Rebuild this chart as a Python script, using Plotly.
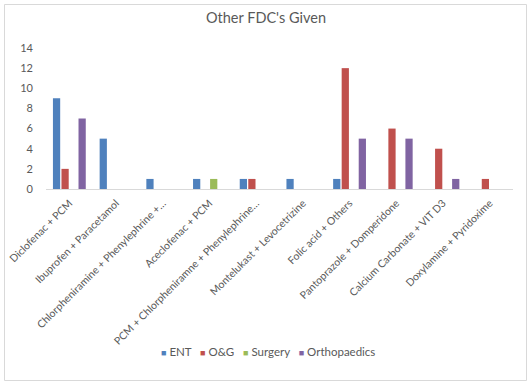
import plotly.graph_objects as go

categories = [
    "Diclofenac + PCM",
    "Ibuprofen + Paracetamol",
    "Chlorpheniramine + Phenylephrine +…",
    "Aceclofenac + PCM",
    "PCM + Chlorpheniramne + Phenylephrine…",
    "Montelukast + Levocetrizine",
    "Folic acid + Others",
    "Pantoprazole + Domperidone",
    "Calcium Carbonate + VIT D3",
    "Doxylamine + Pyridoxime",
]
ent = [9, 5, 1, 1, 1, 1, 1, 0, 0, 0]
og = [2, 0, 0, 0, 1, 0, 12, 6, 4, 1]
surgery = [0, 0, 0, 1, 0, 0, 0, 0, 0, 0]
ortho = [7, 0, 0, 0, 0, 0, 5, 5, 1, 0]

series_names = ["ENT", "O&G", "Surgery", "Orthopaedics"]
series_values = [ent, og, surgery, ortho]
series_colors = ["#4f81bd", "#c0504d", "#9bbb59", "#8064a2"]

FONT = "Lato, sans-serif"
NARROW = "Liberation Sans Narrow, Lato, sans-serif"
GREY = "#595959"

fig = go.Figure()
for name, vals, color in zip(series_names, series_values, series_colors):
    fig.add_trace(go.Bar(x=categories, y=vals, name=name, marker_color=color,
                         marker_line_width=0, showlegend=False))

W, H = 532, 385
L, R, T, B = 46, 19, 48, 196
pw, ph = W - L - R, H - T - B

def px_x(p):
    return (p - L) / pw

def px_y(p):
    return (H - B - p) / ph

legend_text = "&nbsp;&nbsp;&nbsp;".join(
    f"<span style='color:{c}; font-size:9px'>■</span>&nbsp;{n.replace('&', '&amp;')}"
    for n, c in zip(series_names, series_colors)
)

fig.update_layout(
    width=W, height=H,
    margin=dict(l=L, r=R, t=T, b=B),
    paper_bgcolor="white", plot_bgcolor="white",
    barmode="group", bargap=0.27, bargroupgap=0.15,
    title=dict(text="Other FDC's Given", x=0.5, xref="container", xanchor="center",
               y=1 - 18 / H, yanchor="middle",
               font=dict(family=FONT, size=14.5, color=GREY)),
    font=dict(family=FONT, color=GREY, size=12),
    xaxis=dict(tickangle=-45, showline=True, linecolor="#d9d9d9", linewidth=1,
               ticks="", showgrid=False,
               tickfont=dict(family=NARROW, size=10.5, color=GREY),
               ticklabelstandoff=3, automargin=False),
    yaxis=dict(range=[0, 14], dtick=2, showgrid=False, zeroline=False,
               showline=False, ticks="", tickfont=dict(size=11, color=GREY),
               ticklabelstandoff=12, automargin=False),
    showlegend=False,
    annotations=[dict(text=legend_text, xref="paper", yref="paper",
                      x=px_x(268), y=px_y(351), xanchor="center", yanchor="middle",
                      showarrow=False, font=dict(family=FONT, size=11.5, color=GREY))],
    shapes=[dict(type="rect", xref="paper", yref="paper",
                 x0=px_x(4.5), x1=px_x(526.5), y0=px_y(380.5), y1=px_y(4.5),
                 line=dict(color="#d9d9d9", width=1), fillcolor="rgba(0,0,0,0)",
                 layer="below")],
)

fig.write_html("out.html", config={"displayModeBar": False},
               post_script="document.body.style.margin='0';document.body.style.overflow='hidden';")
